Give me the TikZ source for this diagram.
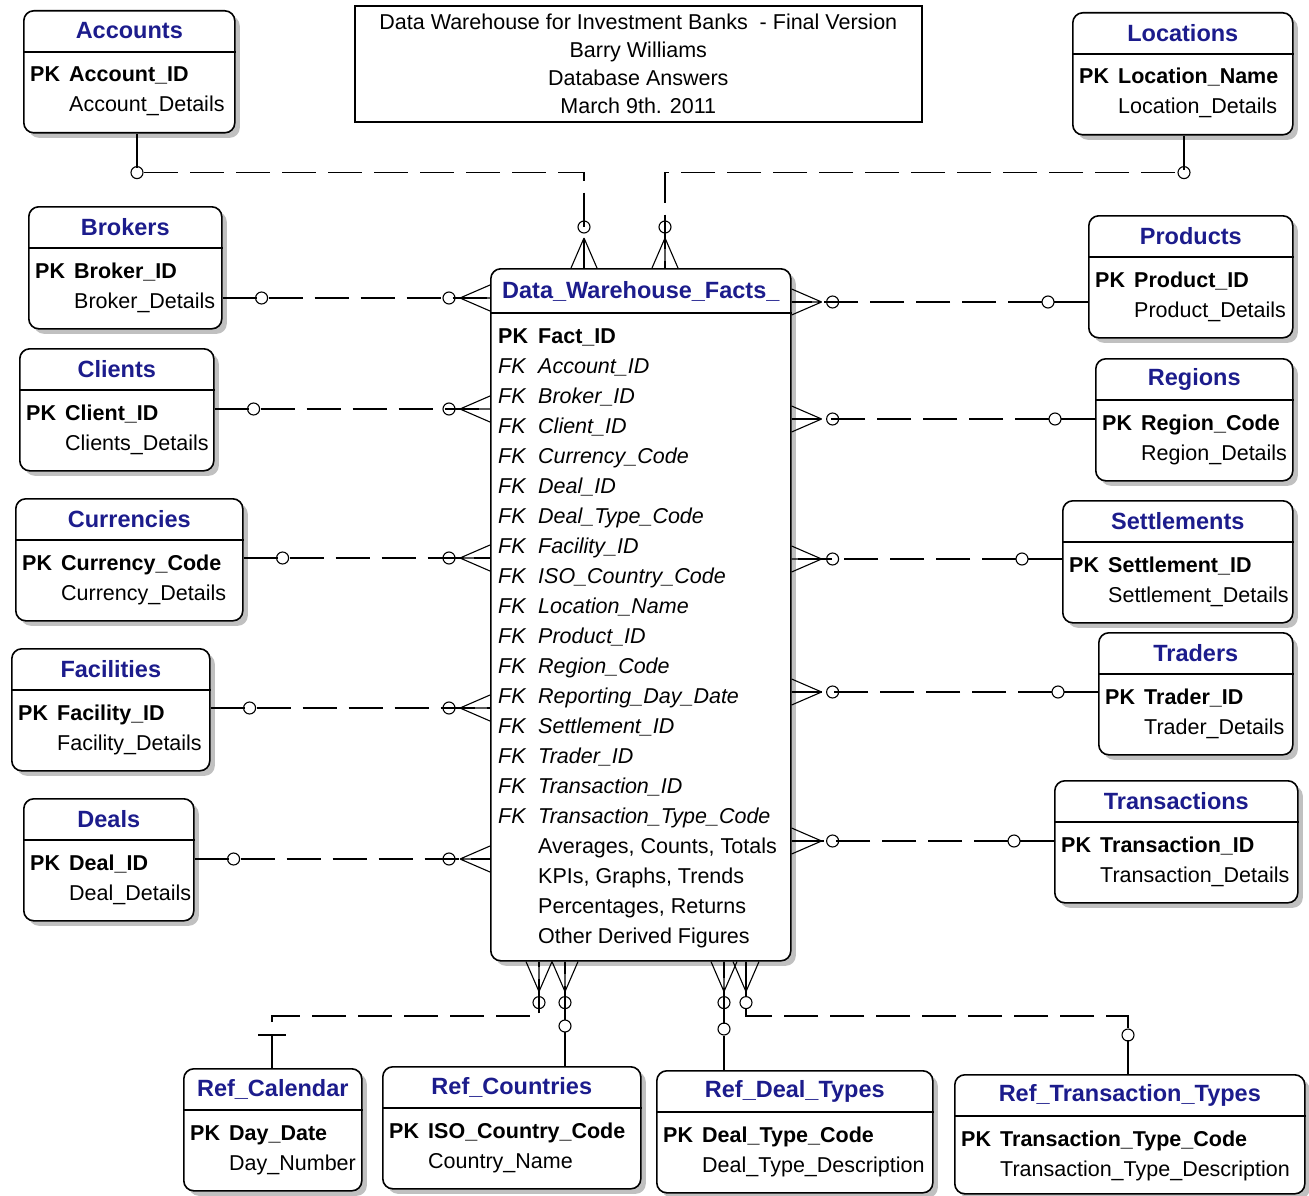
\documentclass[tikz,border=0pt]{standalone}
\usepackage{fontspec}
\setmainfont{Liberation Sans}
\usepackage{tikz}
\usetikzlibrary{positioning,calc,shadows}

\definecolor{titleblue}{RGB}{28,28,140}
\definecolor{shade}{RGB}{192,192,192}
\newcommand{\efont}{\fontsize{21.5}{26}\selectfont}

\tikzset{
  ent/.style={draw, line width=1.6pt, rounded corners=10pt, fill=white, anchor=north west, inner sep=0pt,
    drop shadow={shadow xshift=5pt, shadow yshift=-5pt, fill=shade, opacity=1}},
  etitle/.style={text=titleblue, font=\fontsize{23.5}{26}\selectfont\bfseries, inner sep=0pt},
  attr/.style={anchor=base west, inner sep=0pt, font=\efont},
  pkey/.style={attr, font=\efont\bfseries},
  fkey/.style={attr, font=\efont\itshape},
  rel/.style={line width=1.3pt, dash pattern=on 34pt off 12pt},
  crowline/.style={line width=1.1pt},
  crowfoot/.pic={
    \draw[crowline] (-30,0) -- (0,-13) (-30,0) -- (0,0) (-30,0) -- (0,13);
    \draw[crowline] (-41,0) circle (6pt);
  }
}

% name, x, y, width, height, title, key, detail
\newcommand{\erentity}[8]{%
  \node[ent, minimum width=#4pt, minimum height=#5pt] (#1) at (#2,#3) {};
  \draw[line width=1.6pt] ([yshift=-42pt]#1.north west) -- ([yshift=-42pt]#1.north east);
  \node[etitle] (#1-t) at ([yshift=-21pt]#1.north) {#6};
  \node[pkey] (#1-pk) at ([xshift=7pt,yshift=-72pt]#1.north west) {PK};
  \node[pkey] (#1-k) at ([xshift=46pt,yshift=-72pt]#1.north west) {#7};
  \node[attr] (#1-a) at ([xshift=46pt,yshift=-102pt]#1.north west) {#8};
}

\begin{document}
\begin{tikzpicture}[x=1pt,y=-1pt]
  \useasboundingbox (0,0) rectangle (1309,1196);

  % title block
  \node[draw, line width=1.6pt, minimum width=567pt, minimum height=116pt, anchor=north west,
    inner sep=0pt, align=center, font=\fontsize{21.5}{28}\selectfont] (info) at (354,5)
    {Data Warehouse for Investment Banks\ \ - Final Version\\Barry Williams\\Database Answers\\March 9th. 2011};

  % left column
  \erentity{acc}{23}{10}{211}{122}{Accounts}{Account\_ID}{Account\_Details}
  \erentity{brk}{28}{206}{193}{122}{Brokers}{Broker\_ID}{Broker\_Details}
  \erentity{cli}{19}{348}{194}{122}{Clients}{Client\_ID}{Clients\_Details}
  \erentity{cur}{15}{498}{227}{122}{Currencies}{Currency\_Code}{Currency\_Details}
  \erentity{fac}{11}{648}{198}{122}{Facilities}{Facility\_ID}{Facility\_Details}
  \erentity{dea}{23}{798}{170}{122}{Deals}{Deal\_ID}{Deal\_Details}

  % right column
  \erentity{loc}{1072}{12}{220}{122}{Locations}{Location\_Name}{Location\_Details}
  \erentity{prd}{1088}{215}{204}{122}{Products}{Product\_ID}{Product\_Details}
  \erentity{reg}{1095}{358}{197}{122}{Regions}{Region\_Code}{Region\_Details}
  \erentity{stl}{1062}{500}{230}{122}{Settlements}{Settlement\_ID}{Settlement\_Details}
  \erentity{trd}{1098}{632}{194}{122}{Traders}{Trader\_ID}{Trader\_Details}
  \erentity{trn}{1054}{780}{243}{122}{Transactions}{Transaction\_ID}{Transaction\_Details}

  % bottom row
  \erentity{cal}{183}{1068}{178}{122}{Ref\_Calendar}{Day\_Date}{Day\_Number}
  \erentity{cty}{382}{1066}{258}{122}{Ref\_Countries}{ISO\_Country\_Code}{Country\_Name}
  \erentity{dty}{656}{1070}{276}{122}{Ref\_Deal\_Types}{Deal\_Type\_Code}{Deal\_Type\_Description}
  \erentity{tty}{954}{1074}{350}{119}{Ref\_Transaction\_Types}{Transaction\_Type\_Code}{Transaction\_Type\_Description}

  % fact table
  \node[ent, minimum width=300pt, minimum height=692pt] (fact) at (490,268) {};
  \draw[line width=1.6pt] ([yshift=-45pt]fact.north west) -- ([yshift=-45pt]fact.north east);
  \node[etitle] (fact-t) at ([yshift=-23pt]fact.north) {Data\_Warehouse\_Facts\_};
  \node[pkey] (fact-pk) at ([xshift=8pt,yshift=-75pt]fact.north west) {PK};
  \node[pkey] (fact-k) at ([xshift=48pt,yshift=-75pt]fact.north west) {Fact\_ID};
  \foreach \fk [count=\i] in {Account\_ID, Broker\_ID, Client\_ID, Currency\_Code, Deal\_ID,
      Deal\_Type\_Code, Facility\_ID, ISO\_Country\_Code, Location\_Name, Product\_ID,
      Region\_Code, Reporting\_Day\_Date, Settlement\_ID, Trader\_ID, Transaction\_ID,
      Transaction\_Type\_Code} {
    \node[fkey] (fk-\i) at ([xshift=8pt,yshift={-75pt-\i*30pt}]fact.north west) {FK};
    \node[fkey] (fkn-\i) at ([xshift=48pt,yshift={-75pt-\i*30pt}]fact.north west) {\fk};
  }
  \foreach \df [count=\j from 17] in {{Averages, Counts, Totals}, {KPIs, Graphs, Trends},
      {Percentages, Returns}, {Other Derived Figures}}
    \node[attr] (df-\j) at ([xshift=48pt,yshift={-75pt-\j*30pt}]fact.north west) {\df};

  % left relationships
  \foreach \e/\yy in {brk/298, cli/409, cur/558, fac/708, dea/859} {
    \draw[rel] (\e.east |- 0,\yy) -- (fact.west |- 0,\yy);
    \draw[crowline] ($(\e.east |- 0,\yy)+(39,0)$) circle (6pt);
    \pic at (fact.west |- 0,\yy) {crowfoot};
  }

  % right relationships
  \foreach \e/\yy in {prd/302, reg/419, stl/559, trd/692, trn/841} {
    \draw[rel] (\e.west |- 0,\yy) -- (fact.east |- 0,\yy);
    \draw[crowline] ($(\e.west |- 0,\yy)+(-40,0)$) circle (6pt);
    \pic[rotate=180] at (fact.east |- 0,\yy) {crowfoot};
  }

  % top relationships
  \draw[rel] (acc.south -| 137,0) -- ++(0,39) -| (fact.north -| 584,0);
  \draw[crowline] ($(acc.south -| 137,0)+(0,39)$) circle (6pt);
  \pic[rotate=-90] at (fact.north -| 584,0) {crowfoot};
  \draw[rel] (loc.south -| 1184,0) -- ++(0,37) -| (fact.north -| 665,0);
  \draw[crowline] ($(loc.south -| 1184,0)+(0,37)$) circle (6pt);
  \pic[rotate=-90] at (fact.north -| 665,0) {crowfoot};

  % bottom relationships
  \draw[rel] (cal.north -| 272,0) -- ++(0,-52) -| (fact.south -| 539,0);
  \draw[crowline] ($(cal.north -| 272,0)+(-14,-33)$) -- ++(28,0);
  \pic[rotate=90] at (fact.south -| 539,0) {crowfoot};
  \draw[rel] (cty.north -| 565,0) -- (fact.south -| 565,0);
  \draw[crowline] ($(cty.north -| 565,0)+(0,-40)$) circle (6pt);
  \pic[rotate=90] at (fact.south -| 565,0) {crowfoot};
  \draw[rel] (dty.north -| 724,0) -- (fact.south -| 724,0);
  \draw[crowline] ($(dty.north -| 724,0)+(0,-41)$) circle (6pt);
  \pic[rotate=90] at (fact.south -| 724,0) {crowfoot};
  \draw[rel] (tty.north -| 1128,0) -- ++(0,-58) -| (fact.south -| 746,0);
  \draw[crowline] ($(tty.north -| 1128,0)+(0,-39)$) circle (6pt);
  \pic[rotate=90] at (fact.south -| 746,0) {crowfoot};
\end{tikzpicture}
\end{document}
